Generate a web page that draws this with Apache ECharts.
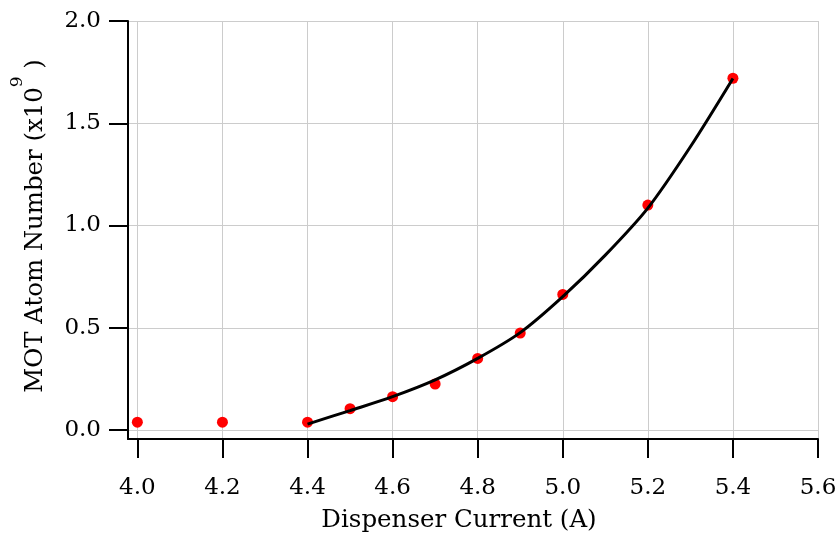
<!DOCTYPE html>
<html>
<head>
<meta charset="utf-8">
<script src="https://cdn.jsdelivr.net/npm/echarts@6/dist/echarts.min.js"></script>
<style>
  html, body { margin: 0; padding: 0; background: #ffffff; }
  #chart { width: 840px; height: 533px; }
</style>
</head>
<body>
<div id="chart"></div>
<script>
// Measured MOT atom number versus dispenser current
const current = [4.0, 4.2, 4.4, 4.5, 4.6, 4.7, 4.8, 4.9, 5.0, 5.2, 5.4];
const atoms   = [0.038, 0.038, 0.038, 0.104, 0.163, 0.225, 0.350, 0.474, 0.663, 1.100, 1.720];

// Fitted curve through the measured points
const fitCurrent = [4.4, 4.5, 4.6, 4.7, 4.8, 4.9, 5.0, 5.1, 5.2, 5.3, 5.4];
const fitAtoms   = [0.029, 0.095, 0.163, 0.245, 0.350, 0.476, 0.652, 0.855, 1.085, 1.385, 1.719];

// Tick positions
const xTicks = [4.0, 4.2, 4.4, 4.6, 4.8, 5.0, 5.2, 5.4, 5.6];
const yTicks = [0.0, 0.5, 1.0, 1.5, 2.0];

const FONT = 'DejaVu Serif';

const pairs = (xs, ys) => xs.map((x, i) => [x, ys[i]]);

const chart = echarts.init(document.getElementById('chart'), null, { renderer: 'canvas' });

chart.setOption({
  backgroundColor: '#ffffff',
  animation: false,
  grid: { left: 128, right: 22, top: 21, bottom: 94, outerBoundsMode: 'none', containLabel: false },
  xAxis: {
    type: 'value',
    min: 3.978,
    max: 5.6,
    name: 'Dispenser Current (A)',
    nameLocation: 'middle',
    nameGap: 69,
    nameTextStyle: { fontFamily: FONT, fontSize: 24.5, color: '#000', padding: [0, 28, 0, 0] },
    axisLine: { show: true, onZero: false, lineStyle: { color: '#000', width: 2 } },
    axisTick: { show: true, length: 19, lineStyle: { color: '#000', width: 2 }, customValues: xTicks },
    axisLabel: {
      customValues: xTicks,
      formatter: v => v.toFixed(1),
      fontFamily: FONT, fontSize: 23, color: '#000', margin: 38
    },
    splitLine: { show: true, lineStyle: { color: '#cccccc', width: 1 } }
  },
  yAxis: {
    type: 'value',
    min: -0.044,
    max: 2.0,
    name: '{a|MOT Atom Number (x10}{s|9}{a| )}',
    nameLocation: 'middle',
    nameGap: 80,
    nameTextStyle: {
      fontFamily: FONT, color: '#000',
      padding: [0, 0, 0, 8],
      rich: {
        a: { fontFamily: FONT, fontSize: 24.4, color: '#000', lineHeight: 39, verticalAlign: 'bottom' },
        s: { fontFamily: FONT, fontSize: 17, color: '#000', lineHeight: 12, verticalAlign: 'top' }
      }
    },
    axisLine: { show: true, onZero: false, lineStyle: { color: '#000', width: 2 } },
    axisTick: { show: true, length: 19, lineStyle: { color: '#000', width: 2 }, customValues: yTicks },
    axisLabel: {
      customValues: yTicks,
      formatter: v => v.toFixed(1),
      fontFamily: FONT, fontSize: 23, color: '#000', margin: 27
    },
    splitLine: { show: true, lineStyle: { color: '#cccccc', width: 1 } }
  },
  series: [
    {
      name: 'measured',
      type: 'scatter',
      data: pairs(current, atoms),
      symbol: 'circle',
      symbolSize: 11,
      itemStyle: { color: '#ff0000', opacity: 1 },
      z: 2
    },
    {
      name: 'fit',
      type: 'line',
      data: pairs(fitCurrent, fitAtoms),
      smooth: 0.3,
      showSymbol: false,
      lineStyle: { color: '#000', width: 3 },
      z: 3
    }
  ]
});
</script>
</body>
</html>
